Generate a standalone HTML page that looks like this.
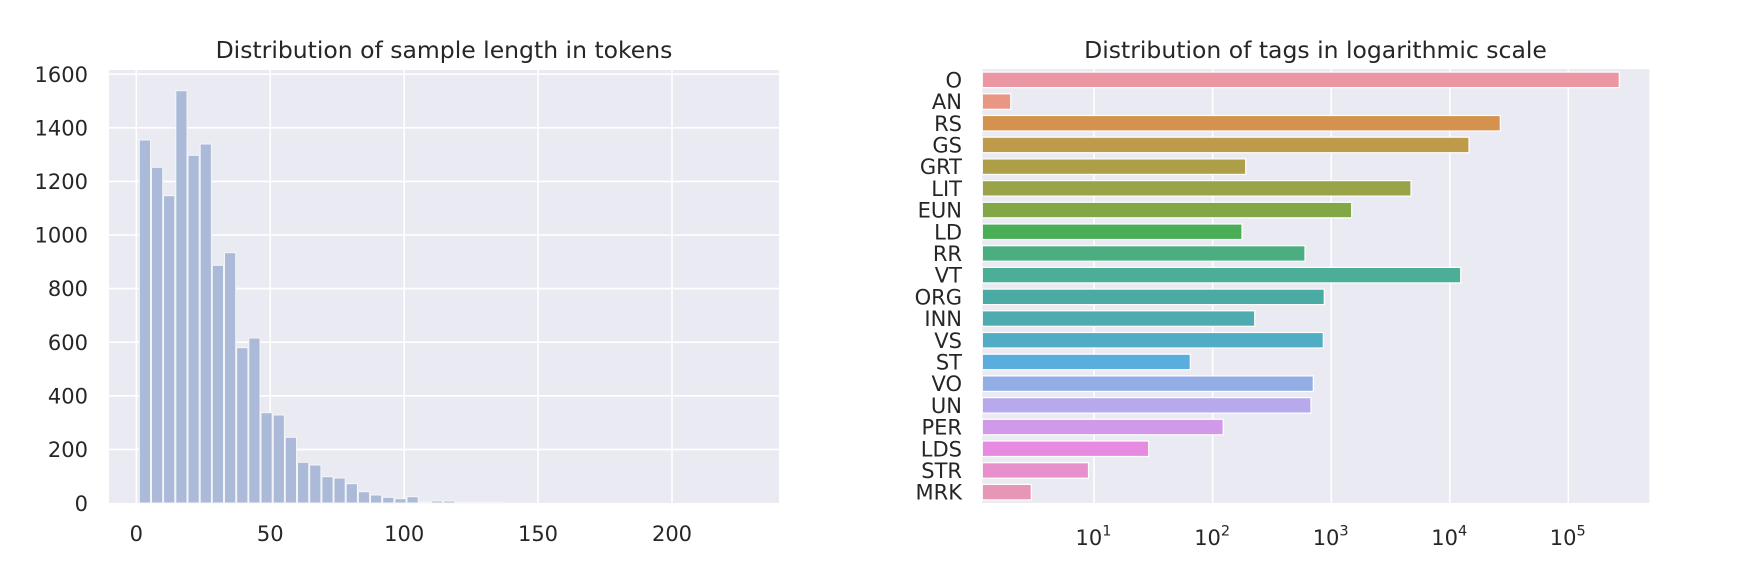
<!DOCTYPE html>
<html><head><meta charset="utf-8"><style>
html,body{margin:0;padding:0;background:#fff;}
svg text{font-family:"DejaVu Sans","Liberation Sans",sans-serif;fill:#262626;}
</style></head><body>
<svg width="1737" height="576" viewBox="0 0 1737 576" xmlns="http://www.w3.org/2000/svg">
<!-- Left chart -->
<rect x="109" y="70" width="670" height="433" fill="#eaeaf2"/>
<g stroke="#fff" stroke-width="1.6">
<line x1="109" x2="779" y1="74.2" y2="74.2"/><line x1="109" x2="779" y1="127.8" y2="127.8"/>
<line x1="109" x2="779" y1="181.4" y2="181.4"/><line x1="109" x2="779" y1="235" y2="235"/>
<line x1="109" x2="779" y1="288.6" y2="288.6"/><line x1="109" x2="779" y1="342.2" y2="342.2"/>
<line x1="109" x2="779" y1="395.8" y2="395.8"/><line x1="109" x2="779" y1="449.4" y2="449.4"/>
<line x1="136.3" x2="136.3" y1="70" y2="503"/><line x1="270.2" x2="270.2" y1="70" y2="503"/>
<line x1="404.2" x2="404.2" y1="70" y2="503"/><line x1="538" x2="538" y1="70" y2="503"/>
<line x1="672" x2="672" y1="70" y2="503"/>
</g>
<g fill="#abbad8" stroke="#f4f5f9" stroke-width="1">
<rect x="139.3" y="140" width="11.2" height="363"/>
<rect x="151.5" y="167.3" width="11.2" height="335.7"/>
<rect x="163.6" y="195.7" width="11.2" height="307.3"/>
<rect x="175.8" y="90.7" width="11.2" height="412.3"/>
<rect x="188" y="155.3" width="11.2" height="347.7"/>
<rect x="200.2" y="144" width="11.2" height="359"/>
<rect x="212.3" y="265.3" width="11.2" height="237.7"/>
<rect x="224.5" y="252.7" width="11.2" height="250.3"/>
<rect x="236.7" y="347.7" width="11.2" height="155.3"/>
<rect x="248.8" y="338" width="11.2" height="165"/>
<rect x="261" y="412.7" width="11.2" height="90.3"/>
<rect x="273.2" y="415" width="11.2" height="88"/>
<rect x="285.3" y="437.3" width="11.2" height="65.7"/>
<rect x="297.5" y="462.3" width="11.2" height="40.7"/>
<rect x="309.7" y="465" width="11.2" height="38"/>
<rect x="321.9" y="476.7" width="11.2" height="26.3"/>
<rect x="334" y="478" width="11.2" height="25"/>
<rect x="346.2" y="483.7" width="11.2" height="19.3"/>
<rect x="358.4" y="491.7" width="11.2" height="11.3"/>
<rect x="370.5" y="495" width="11.2" height="8"/>
<rect x="382.7" y="497.3" width="11.2" height="5.7"/>
<rect x="394.9" y="498.7" width="11.2" height="4.3"/>
<rect x="407" y="496.7" width="11.2" height="6.3"/>
<rect x="419.2" y="502" width="11.2" height="1"/>
<rect x="431.4" y="501" width="11.2" height="2"/>
<rect x="443.6" y="501" width="11.2" height="2"/>
<rect x="455.7" y="502.3" width="11.2" height="0.7"/>
<rect x="467.9" y="502.3" width="11.2" height="0.7"/>
<rect x="480.1" y="502.3" width="11.2" height="0.7"/>
<rect x="492.2" y="502.3" width="11.2" height="0.7"/>
</g>
<g font-size="21" text-anchor="end">
<text x="88" y="81.8">1600</text><text x="88" y="135.4">1400</text><text x="88" y="189">1200</text>
<text x="88" y="242.6">1000</text><text x="88" y="296.2">800</text><text x="88" y="349.8">600</text>
<text x="88" y="403.4">400</text><text x="88" y="457">200</text><text x="88" y="511">0</text>
</g>
<g font-size="21" text-anchor="middle">
<text x="136.3" y="541">0</text><text x="270.2" y="541">50</text><text x="404.2" y="541">100</text>
<text x="538" y="541">150</text><text x="672" y="541">200</text>
</g>
<text x="444" y="58" font-size="23.5" text-anchor="middle">Distribution of sample length in tokens</text>

<!-- Right chart -->
<rect x="982.3" y="69" width="667" height="434" fill="#eaeaf2"/>
<g stroke="#fff" stroke-width="1.6">
<line x1="1094" x2="1094" y1="69" y2="503"/><line x1="1212.7" x2="1212.7" y1="69" y2="503"/>
<line x1="1331.2" x2="1331.2" y1="69" y2="503"/><line x1="1449.8" x2="1449.8" y1="69" y2="503"/>
<line x1="1568.3" x2="1568.3" y1="69" y2="503"/>
</g>
<g stroke="#fff" stroke-width="1.2">
<rect x="982.3" y="72.1" width="637" height="15.5" fill="#ea96a3"/>
<rect x="982.3" y="93.8" width="28.4" height="15.5" fill="#e99782"/>
<rect x="982.3" y="115.5" width="518" height="15.5" fill="#d5924e"/>
<rect x="982.3" y="137.2" width="486.7" height="15.5" fill="#bf9a4b"/>
<rect x="982.3" y="158.9" width="263.4" height="15.5" fill="#ac9f47"/>
<rect x="982.3" y="180.6" width="428.7" height="15.5" fill="#9aa348"/>
<rect x="982.3" y="202.3" width="369.4" height="15.5" fill="#82a747"/>
<rect x="982.3" y="224" width="259.7" height="15.5" fill="#4aae57"/>
<rect x="982.3" y="245.7" width="322.7" height="15.5" fill="#4bae80"/>
<rect x="982.3" y="267.4" width="478.4" height="15.5" fill="#4bae96"/>
<rect x="982.3" y="289.1" width="342" height="15.5" fill="#4aaba5"/>
<rect x="982.3" y="310.8" width="272.4" height="15.5" fill="#4eacb0"/>
<rect x="982.3" y="332.5" width="341" height="15.5" fill="#50adc3"/>
<rect x="982.3" y="354.2" width="208" height="15.5" fill="#5aaedd"/>
<rect x="982.3" y="375.9" width="331" height="15.5" fill="#93aee5"/>
<rect x="982.3" y="397.6" width="328.7" height="15.5" fill="#b8a8ec"/>
<rect x="982.3" y="419.3" width="240.9" height="15.5" fill="#d09ae8"/>
<rect x="982.3" y="441" width="166.4" height="15.5" fill="#e78be2"/>
<rect x="982.3" y="462.7" width="106.2" height="15.5" fill="#e890cb"/>
<rect x="982.3" y="484.4" width="49" height="15.5" fill="#e896b5"/>
</g>
<g font-size="21" text-anchor="end">
<text x="962" y="87.4">O</text><text x="962" y="109.1">AN</text><text x="962" y="130.8">RS</text>
<text x="962" y="152.5">GS</text><text x="962" y="174.2">GRT</text><text x="962" y="195.9">LIT</text>
<text x="962" y="217.6">EUN</text><text x="962" y="239.3">LD</text><text x="962" y="261">RR</text>
<text x="962" y="282.7">VT</text><text x="962" y="304.4">ORG</text><text x="962" y="326.1">INN</text>
<text x="962" y="347.8">VS</text><text x="962" y="369.5">ST</text><text x="962" y="391.2">VO</text>
<text x="962" y="412.9">UN</text><text x="962" y="434.6">PER</text><text x="962" y="456.3">LDS</text>
<text x="962" y="478">STR</text><text x="962" y="499.7">MRK</text>
</g>
<g font-size="21">
<text x="1075.5" y="545">10<tspan font-size="14.5" dy="-9.5">1</tspan></text>
<text x="1194.2" y="545">10<tspan font-size="14.5" dy="-9.5">2</tspan></text>
<text x="1312.7" y="545">10<tspan font-size="14.5" dy="-9.5">3</tspan></text>
<text x="1431.3" y="545">10<tspan font-size="14.5" dy="-9.5">4</tspan></text>
<text x="1549.8" y="545">10<tspan font-size="14.5" dy="-9.5">5</tspan></text>
</g>
<text x="1315.5" y="58" font-size="23.5" text-anchor="middle">Distribution of tags in logarithmic scale</text>
</svg>
</body></html>
